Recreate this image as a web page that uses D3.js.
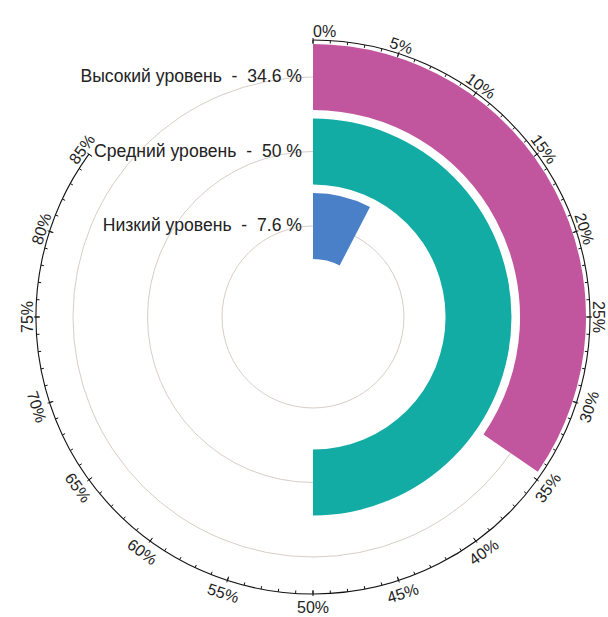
<!DOCTYPE html>
<html>
<head>
<meta charset="utf-8">
<script src="https://cdn.jsdelivr.net/npm/d3@7"></script>
<style>
  html, body { margin: 0; padding: 0; background: #ffffff; }
  svg { display: block; }
  text { font-family: "Liberation Sans", Arial, sans-serif; fill: #222; }
</style>
</head>
<body>
<div id="chart"></div>
<script>
// ---- data ----
const categories = ["Высокий уровень", "Средний уровень", "Низкий уровень"];
const values = [34.6, 50, 7.6];
const valueLabels = ["34.6 %", "50 %", "7.6 %"];
const colors = ["#c1569f", "#12aca4", "#4a80c8"];
const tickValues = [0, 5, 10, 15, 20, 25, 30, 35, 40, 45, 50, 55, 60, 65, 70, 75, 80, 85];
const tickLabels = ["0%", "5%", "10%", "15%", "20%", "25%", "30%", "35%", "40%", "45%", "50%", "55%", "60%", "65%", "70%", "75%", "80%", "85%"];
const axisMax = 85;

// ---- layout ----
const W = 608, H = 617;
const cx = 313, cy = 317;
const axisR = 277;

const svg = d3.select("#chart").append("svg").attr("width", W).attr("height", H);
const g = svg.append("g").attr("transform", `translate(${cx},${cy})`);

const angle = d3.scaleLinear().domain([0, 100]).range([0, 2 * Math.PI]);
const band = d3.scaleBand()
  .domain(categories.slice().reverse())
  .range([58, 273])
  .paddingInner(0.115);

// grid circles at band centres
g.selectAll("circle.grid").data(categories).join("circle")
  .attr("class", "grid")
  .attr("r", d => band(d) + band.bandwidth() / 2)
  .attr("fill", "none")
  .attr("stroke", "#d8cdc8")
  .attr("stroke-width", 1);

// bars
const arc = d3.arc();
g.selectAll("path.bar").data(categories).join("path")
  .attr("class", "bar")
  .attr("fill", (d, i) => colors[i])
  .attr("d", (d, i) => arc({
    innerRadius: band(d),
    outerRadius: band(d) + band.bandwidth(),
    startAngle: 0,
    endAngle: angle(values[i])
  }));

// labels
g.selectAll("text.cat").data(categories).join("text")
  .attr("class", "cat")
  .attr("x", -11)
  .attr("y", d => -(band(d) + band.bandwidth() / 2) - 1)
  .attr("text-anchor", "end")
  .attr("dominant-baseline", "central")
  .style("font-size", "17.6px")
  .style("white-space", "pre")
  .attr("xml:space", "preserve")
  .text((d, i) => `${d}  -  ${valueLabels[i]}`);

// axis arc
const p = d3.path();
p.arc(0, 0, axisR, angle(0) - Math.PI / 2, angle(axisMax) - Math.PI / 2);
g.append("path").attr("d", p.toString()).attr("fill", "none").attr("stroke", "#111").attr("stroke-width", 1.1);

// minor ticks
const minor = d3.range(0, axisMax + 1, 1);
g.selectAll("line.minor").data(minor).join("line")
  .attr("class", "minor")
  .attr("x1", v => Math.sin(angle(v)) * (axisR - 3))
  .attr("y1", v => -Math.cos(angle(v)) * (axisR - 3))
  .attr("x2", v => Math.sin(angle(v)) * axisR)
  .attr("y2", v => -Math.cos(angle(v)) * axisR)
  .attr("stroke", "#111").attr("stroke-width", 1);

// major ticks
g.selectAll("line.major").data(tickValues).join("line")
  .attr("class", "major")
  .attr("x1", v => Math.sin(angle(v)) * (axisR - 4))
  .attr("y1", v => -Math.cos(angle(v)) * (axisR - 4))
  .attr("x2", v => Math.sin(angle(v)) * (axisR + 2))
  .attr("y2", v => -Math.cos(angle(v)) * (axisR + 2))
  .attr("stroke", "#111").attr("stroke-width", 1);

// tick labels (baseline on a ring; top half reads outward, bottom half flipped)
g.selectAll("text.tick").data(tickValues).join("text")
  .attr("class", "tick")
  .style("font-size", "16px")
  .attr("text-anchor", v => v === 0 ? "start" : "middle")
  .attr("transform", v => {
    const a = angle(v);
    const deg = a * 180 / Math.PI;
    const bottom = deg > 90 && deg < 270;
    const r = bottom ? axisR + 19 : axisR + 3;
    const x = Math.sin(a) * r, y = -Math.cos(a) * r;
    let rot = deg;
    if (bottom) rot = deg - 180;
    else if (deg >= 270) rot = deg - 360;
    return `translate(${x},${y}) rotate(${rot})`;
  })
  .text((v, i) => tickLabels[i]);
</script>
</body>
</html>
